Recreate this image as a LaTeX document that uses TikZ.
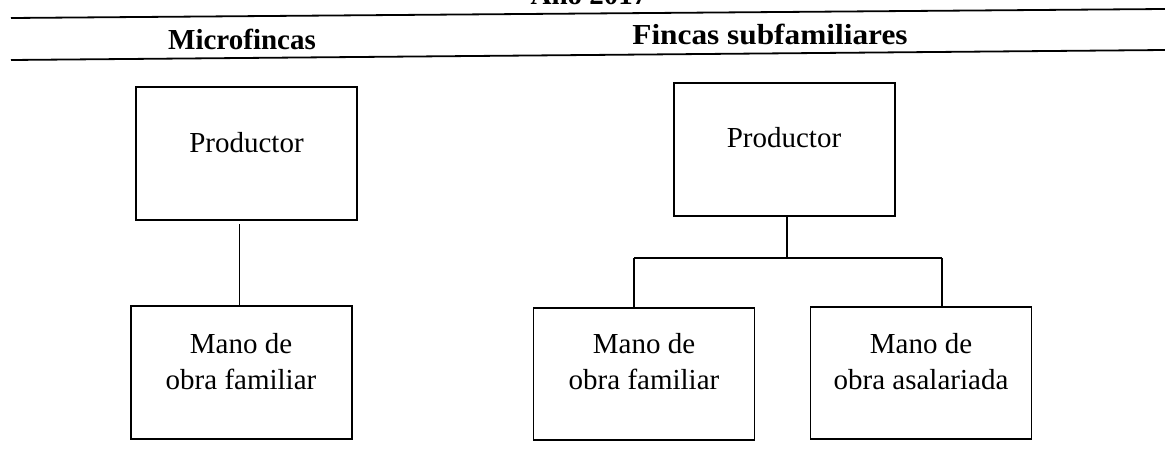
\documentclass[tikz,border=0pt]{standalone}
\usepackage{fontspec}
\setmainfont{Liberation Serif}
\begin{document}
\begin{tikzpicture}[x=1pt,y=-1pt,
  box/.style={draw,line width=1.8pt,inner sep=0pt,minimum width=221pt,minimum height=133pt},
  txt/.style={inner sep=0pt,anchor=base,font=\fontsize{29}{35}\selectfont},
  head/.style={inner sep=0pt,anchor=base,font=\fontsize{29}{35}\selectfont\bfseries},
  rule/.style={line width=1.8pt},
  conn/.style={line width=1.6pt}]
\useasboundingbox (0,0) rectangle (1165,468);
% rules
\coordinate (r1a) at (11,18); \coordinate (r1b) at (1165,9);
\coordinate (r2a) at (11,60); \coordinate (r2b) at (1165,50);
\draw[rule] (r1a) -- (r1b);
\draw[rule] (r2a) -- (r2b);
% headings
\node[head] (anio) at (589,5) {Año 2017};
\node[head] (hmic) at (242,50) {Microfincas};
\node[head] (hfin) at (770,45) {\scalebox{1.08}[1]{Fincas subfamiliares}};
% left part
\node[box] (lp) at (246.5,153.5) {};
\node[box] (lm) at (241.5,372.5) {};
\node[txt] (lpt) at (246.5,153) {Productor};
\node[txt] (lm1) at (241,353) {Mano de};
\node[txt] (lm2) at (241,389) {obra familiar};
\coordinate (lc) at (239,224);
\draw[line width=1pt] (lc) -- (lc |- lm.north);
% right part
\node[box] (rp) at (784.5,149.5) {};
\node[box,minimum height=132pt] (rbl) at (644,374) {};
\node[box,minimum height=132pt] (rbr) at (921,373) {};
\node[txt] (rpt) at (784,148) {Productor};
\node[txt] (rl1) at (644,353) {Mano de};
\node[txt] (rl2) at (644,389) {obra familiar};
\node[txt] (rr1) at (921,353) {Mano de};
\node[txt] (rr2) at (921,389) {obra asalariada};
\coordinate (hl) at (634,258);
\coordinate (hr) at (942,258);
\coordinate (hm) at (787,258);
\draw[conn] (rp.south -| hm) -- (hm);
\draw[conn] (hl) -- (hr);
\draw[conn] (hl) -- (hl |- rbl.north);
\draw[conn] (hr) -- (hr |- rbr.north);
\end{tikzpicture}
\end{document}
